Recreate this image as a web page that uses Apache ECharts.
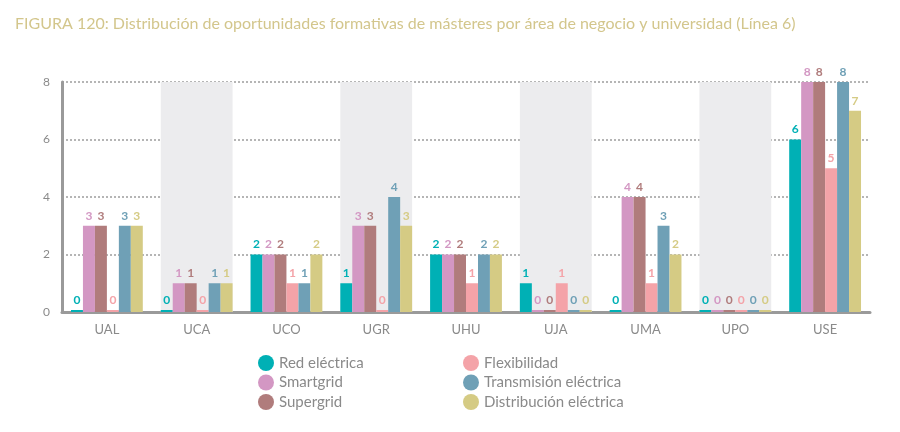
<!DOCTYPE html>
<html><head><meta charset="utf-8">
<script src="https://cdn.jsdelivr.net/npm/echarts@6/dist/echarts.min.js"></script>
<style>html,body{margin:0;padding:0;background:#fff}#c{width:900px;height:432px}</style>
</head><body><div id="c"></div>
<script>
var categories = ['UAL','UCA','UCO','UGR','UHU','UJA','UMA','UPO','USE'];
var seriesNames = ['Red eléctrica','Smartgrid','Supergrid','Flexibilidad','Transmisión eléctrica','Distribución eléctrica'];
var redElectrica = [0,0,2,1,2,1,0,0,6];
var smartgrid = [3,1,2,3,2,0,4,0,8];
var supergrid = [3,1,2,3,2,0,4,0,8];
var flexibilidad = [0,0,1,0,1,1,1,0,5];
var transmision = [3,1,1,4,2,0,3,0,8];
var distribucion = [3,1,2,3,2,0,2,0,7];
var yTicks = [0,2,4,6,8];
var shadedCategories = ['UCA','UGR','UJA','UPO'];

var colors = ['#00b0b5','#d397c3','#b07c7c','#f4a3a8','#6fa0b6','#d5cb84'];
var values = [redElectrica, smartgrid, supergrid, flexibilidad, transmision, distribucion];
var yMax = yTicks[yTicks.length-1];
var font = 'Lato';

var series = [{
  type:'bar', xAxisIndex:1, silent:true, barCategoryGap:'20%', z:0,
  itemStyle:{color:'#ececee'},
  data: categories.map(function(c){ return shadedCategories.indexOf(c)>=0 ? yMax+0.08 : '-'; })
}];
values.forEach(function(v,i){
  series.push({
    name: seriesNames[i], type:'bar', xAxisIndex:0, z:3,
    barGap:'0%', barCategoryGap:'20%', barMinHeight:2,
    itemStyle:{color:colors[i]},
    label:{show:true, position:'top', distance:4, color:colors[i], fontFamily:font, fontSize:12, fontWeight:'bold'},
    data: v
  });
});

var chart = echarts.init(document.getElementById('c'), null, {renderer:'canvas'});
chart.setOption({
  animation:false,
  color: colors,
  title:{text:'FIGURA 120: Distribución de oportunidades formativas de másteres por área de negocio y universidad (Línea 6)',
    left:10, top:11, textStyle:{color:'#d3c68c', fontFamily:font, fontSize:16, fontWeight:'normal'}},
  grid:{left:62, right:30, top:82, bottom:120},
  legend:[
    {data:seriesNames.slice(0,3), orient:'vertical', left:253, top:350, icon:'circle', itemWidth:16, itemHeight:16, itemGap:3.5,
      textStyle:{color:'#8a8a8a', fontFamily:font, fontSize:15}},
    {data:seriesNames.slice(3), orient:'vertical', left:458, top:350, icon:'circle', itemWidth:16, itemHeight:16, itemGap:3.5,
      textStyle:{color:'#8a8a8a', fontFamily:font, fontSize:15}}
  ],
  xAxis:[{
    type:'category', data:categories, offset:4,
    axisLine:{lineStyle:{color:'#9a9a9a', width:3}},
    axisTick:{show:false},
    axisLabel:{color:'#8a8a8a', fontFamily:font, fontSize:13, margin:7}
  },{
    type:'category', data:categories, show:false
  }],
  yAxis:{
    type:'value', min:0, max:yMax, interval:2,
    axisLine:{show:true, lineStyle:{color:'#9a9a9a', width:3}},
    axisTick:{show:false},
    axisLabel:{color:'#8a8a8a', fontFamily:font, fontSize:12, margin:12},
    splitLine:{lineStyle:{color:'#b5b5b5', type:[2,2], width:2}}
  },
  series: series
});
</script></body></html>
